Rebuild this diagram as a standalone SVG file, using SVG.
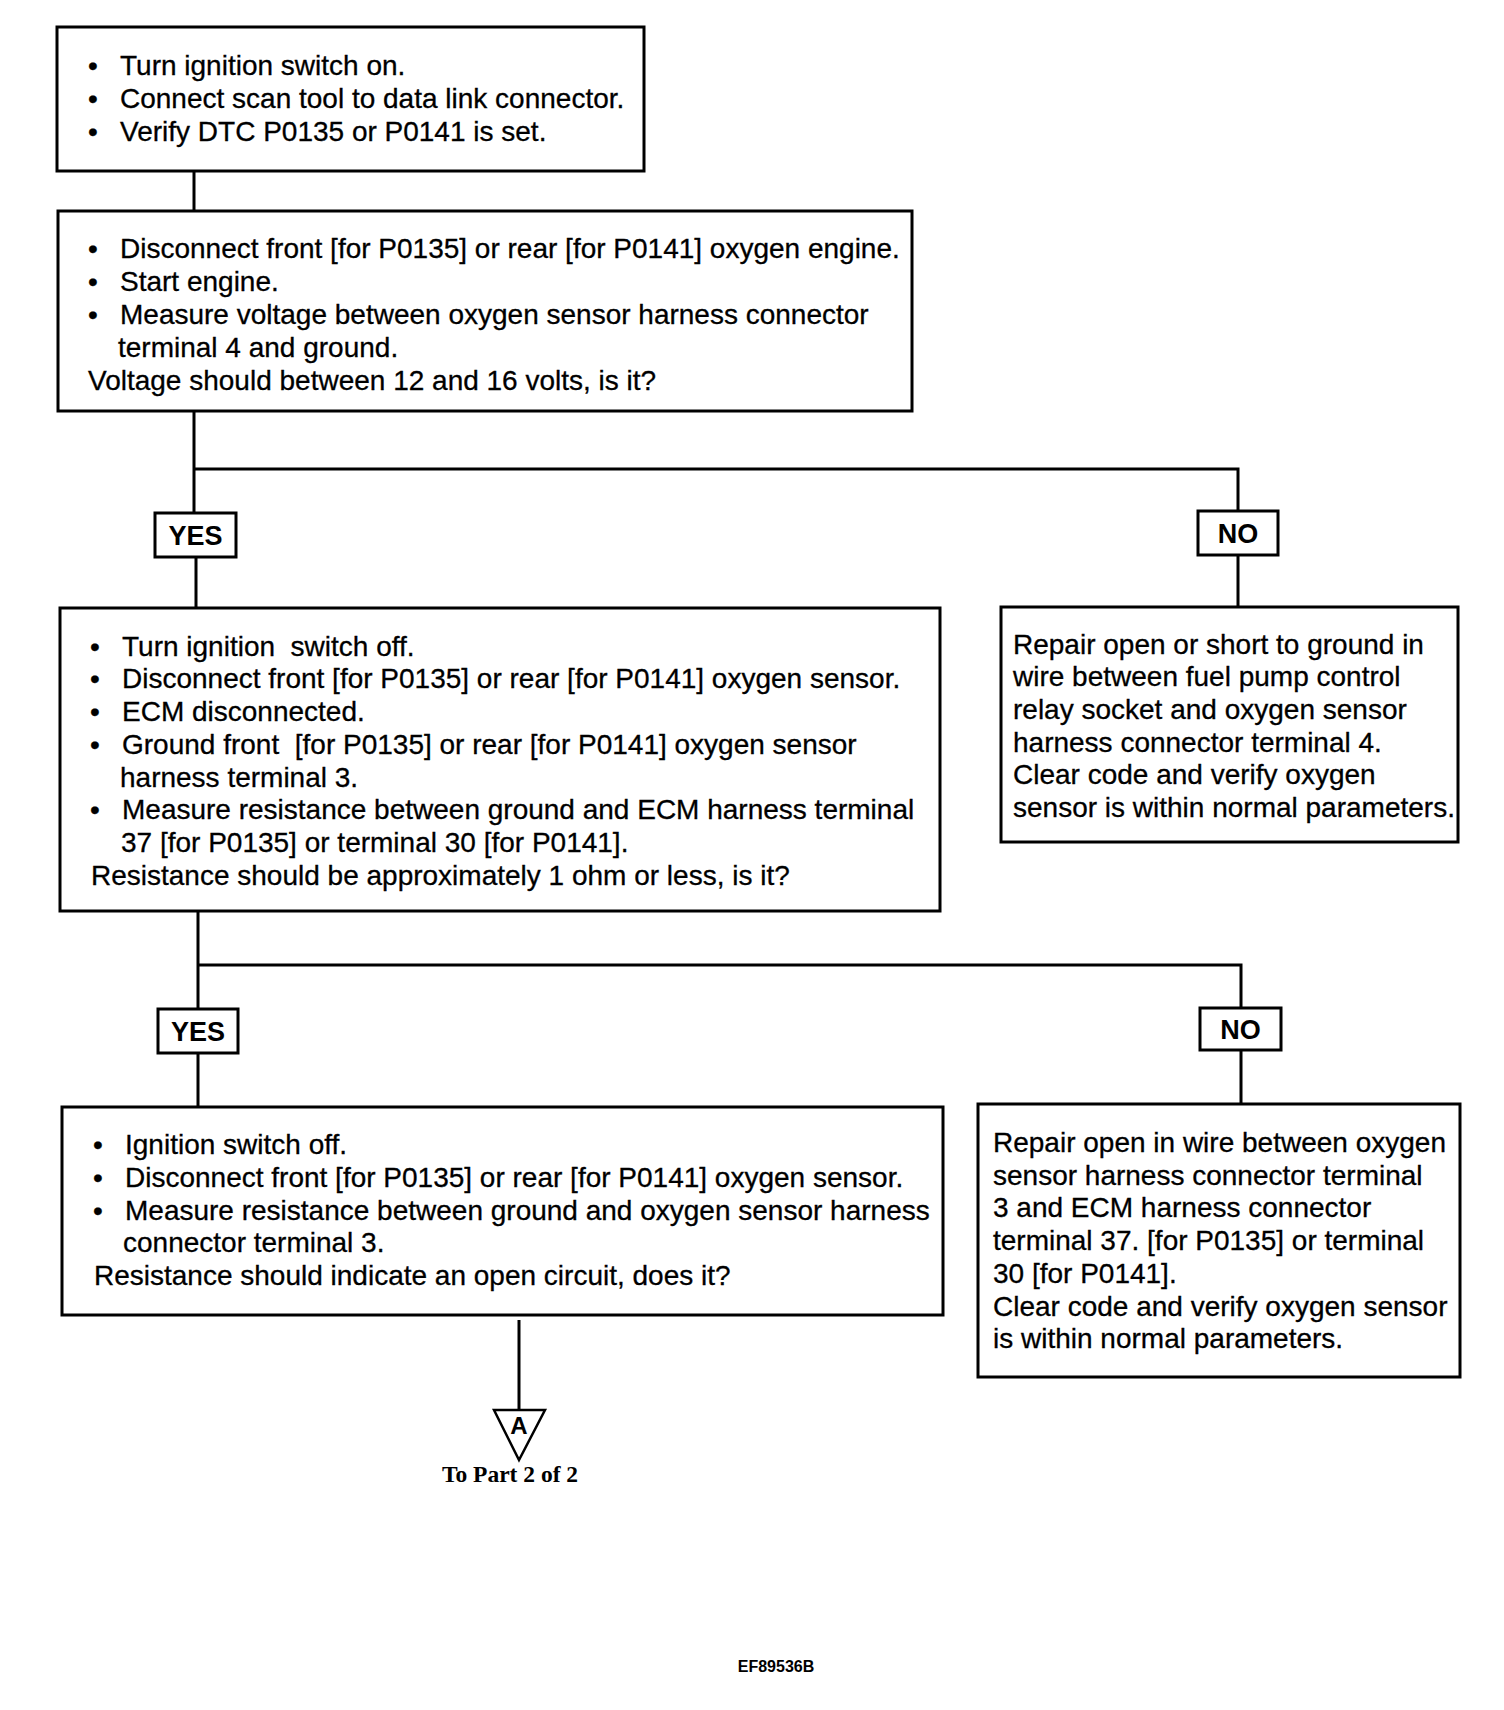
<svg xmlns="http://www.w3.org/2000/svg" width="1504" height="1710" viewBox="0 0 1504 1710">
<style>
.box{fill:#fff;stroke:#000;stroke-width:3}
.lbl{fill:#fff;stroke:#000;stroke-width:3}
.t{font-family:"Liberation Sans",Arial,sans-serif;font-size:28px;fill:#000;stroke:#000;stroke-width:0.3}
.lt{font-family:"Liberation Sans",Arial,sans-serif;font-size:27px;font-weight:bold;fill:#000;text-anchor:middle}
.c{fill:none;stroke:#000;stroke-width:3}
.ser{font-family:"Liberation Serif","Times New Roman",serif;font-size:23.5px;font-weight:bold;fill:#000;text-anchor:middle}
</style>
<rect width="1504" height="1710" fill="#fff"/>
<g id="connectors">
<path class="c" d="M194 171V211"/>
<path class="c" d="M194 411V513M196 557V608"/>
<path class="c" d="M194 469H1238V511M1238 555V607"/>
<path class="c" d="M198 911V1009M198 1053V1107"/>
<path class="c" d="M198 965H1241V1008M1241 1050V1104"/>
<path class="c" d="M519 1320V1410"/>
</g>
<g id="n1">
<rect class="box" x="57" y="27" width="587" height="144"/>
<text class="t"><tspan x="88" y="75">•</tspan><tspan x="120" y="75">Turn ignition switch on.</tspan><tspan x="88" y="108">•</tspan><tspan x="120" y="108">Connect scan tool to data link connector.</tspan><tspan x="88" y="141">•</tspan><tspan x="120" y="141">Verify DTC P0135 or P0141 is set.</tspan></text>
</g>
<g id="n2">
<rect class="box" x="58" y="211" width="854" height="200"/>
<text class="t"><tspan x="88" y="258">•</tspan><tspan x="120" y="258">Disconnect front [for P0135] or rear [for P0141] oxygen engine.</tspan><tspan x="88" y="291">•</tspan><tspan x="120" y="291">Start engine.</tspan><tspan x="88" y="324">•</tspan><tspan x="120" y="324">Measure voltage between oxygen sensor harness connector</tspan><tspan x="118" y="357">terminal 4 and ground.</tspan><tspan x="88" y="390">Voltage should between 12 and 16 volts, is it?</tspan></text>
</g>
<g id="yes1">
<rect class="lbl" x="155" y="513" width="81" height="44"/>
<text class="lt" x="195.5" y="544.5">YES</text>
</g>
<g id="no1">
<rect class="lbl" x="1198" y="511" width="80" height="44"/>
<text class="lt" x="1238" y="542.5">NO</text>
</g>
<g id="n3">
<rect class="box" x="60" y="608" width="880" height="303"/>
<text class="t" xml:space="preserve"><tspan x="90" y="656">•</tspan><tspan x="122" y="656">Turn ignition  switch off.</tspan><tspan x="90" y="688">•</tspan><tspan x="122" y="688">Disconnect front [for P0135] or rear [for P0141] oxygen sensor.</tspan><tspan x="90" y="721">•</tspan><tspan x="122" y="721">ECM disconnected.</tspan><tspan x="90" y="754">•</tspan><tspan x="122" y="754">Ground front  [for P0135] or rear [for P0141] oxygen sensor</tspan><tspan x="120" y="787">harness terminal 3.</tspan><tspan x="90" y="819">•</tspan><tspan x="122" y="819">Measure resistance between ground and ECM harness terminal</tspan><tspan x="121" y="852">37 [for P0135] or terminal 30 [for P0141].</tspan><tspan x="91" y="885">Resistance should be approximately 1 ohm or less, is it?</tspan></text>
</g>
<g id="n4">
<rect class="box" x="1001" y="607" width="457" height="235"/>
<text class="t"><tspan x="1013" y="654">Repair open or short to ground in</tspan><tspan x="1013" y="686">wire between fuel pump control</tspan><tspan x="1013" y="719">relay socket and oxygen sensor</tspan><tspan x="1013" y="752">harness connector terminal 4.</tspan><tspan x="1013" y="784">Clear code and verify oxygen</tspan><tspan x="1013" y="817">sensor is within normal parameters.</tspan></text>
</g>
<g id="yes2">
<rect class="lbl" x="158" y="1009" width="80" height="44"/>
<text class="lt" x="198" y="1040.5">YES</text>
</g>
<g id="no2">
<rect class="lbl" x="1200" y="1008" width="81" height="42"/>
<text class="lt" x="1240.5" y="1038.5">NO</text>
</g>
<g id="n5">
<rect class="box" x="62" y="1107" width="881" height="208"/>
<text class="t"><tspan x="93" y="1154">•</tspan><tspan x="125" y="1154">Ignition switch off.</tspan><tspan x="93" y="1187">•</tspan><tspan x="125" y="1187">Disconnect front [for P0135] or rear [for P0141] oxygen sensor.</tspan><tspan x="93" y="1220">•</tspan><tspan x="125" y="1220">Measure resistance between ground and oxygen sensor harness</tspan><tspan x="123" y="1252">connector terminal 3.</tspan><tspan x="94" y="1285">Resistance should indicate an open circuit, does it?</tspan></text>
</g>
<g id="n6">
<rect class="box" x="978" y="1104" width="482" height="273"/>
<text class="t"><tspan x="993" y="1152">Repair open in wire between oxygen</tspan><tspan x="993" y="1185">sensor harness connector terminal</tspan><tspan x="993" y="1217">3 and ECM harness connector</tspan><tspan x="993" y="1250">terminal 37. [for P0135] or terminal</tspan><tspan x="993" y="1283">30 [for P0141].</tspan><tspan x="993" y="1316">Clear code and verify oxygen sensor</tspan><tspan x="993" y="1348">is within normal parameters.</tspan></text>
</g>
<g id="connA">
<polygon points="494,1410 545,1410 519,1460" fill="#fff" stroke="#000" stroke-width="2.5"/>
<text x="519" y="1434" font-family="Liberation Sans,Arial,sans-serif" font-size="24" font-weight="bold" text-anchor="middle">A</text>
<text class="ser" x="510" y="1482">To Part 2 of 2</text>
</g>
<text x="776" y="1672" font-family="Liberation Sans,Arial,sans-serif" font-size="16" font-weight="bold" text-anchor="middle">EF89536B</text>
</svg>
